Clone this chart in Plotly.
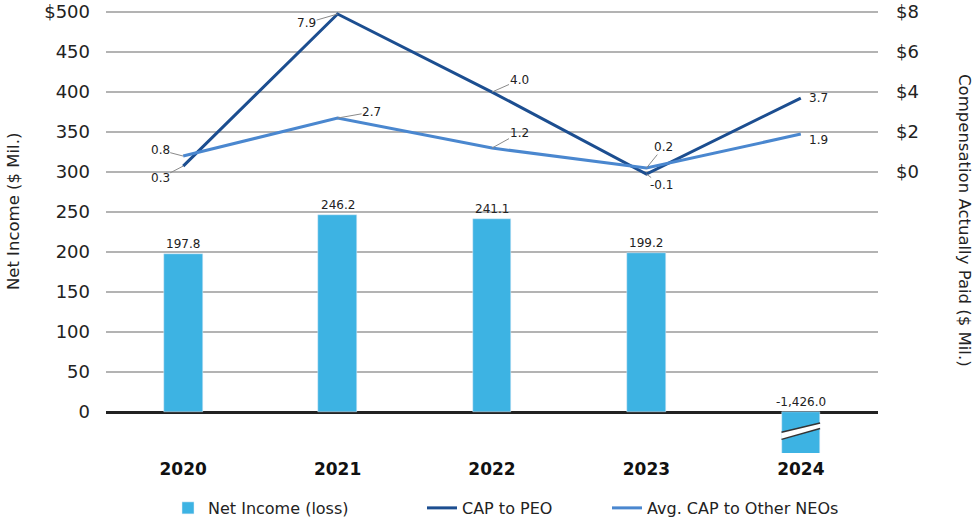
import plotly.graph_objects as go

years = ["2020", "2021", "2022", "2023", "2024"]
net_income = [197.8, 246.2, 241.1, 199.2, -1426.0]
net_income_labels = ["197.8", "246.2", "241.1", "199.2", "-1,426.0"]
cap_peo = [0.3, 7.9, 4.0, -0.1, 3.7]
cap_neo = [0.8, 2.7, 1.2, 0.2, 1.9]
left_ticks = [0, 50, 100, 150, 200, 250, 300, 350, 400, 450, 500]
left_tick_text = ["0", "50", "100", "150", "200", "250", "300", "350", "400", "450", "$500"]
right_ticks = [0, 2, 4, 6, 8]
right_tick_text = ["$0", "$2", "$4", "$6", "$8"]

FONT = "DejaVu Sans"
BAR_C = "#3db3e3"
PEO_C = "#1c4e90"
NEO_C = "#4a87cf"
TXT = "#222222"

LMIN, LMAX = -51, 502.5
# right axis: $0 aligned with 300, $8 aligned with 500
R0, RSCALE = 300, 25
RMIN, RMAX = (LMIN - R0) / RSCALE, (LMAX - R0) / RSCALE
BARW = 0.25

fig = go.Figure()
fig.add_trace(go.Bar(x=years, y=net_income, name="Net Income (loss)", marker_color=BAR_C,
                     width=BARW, yaxis="y", legend="legend"))
fig.add_trace(go.Scatter(x=years, y=cap_peo, name="CAP to PEO", mode="lines",
                         line=dict(color=PEO_C, width=3), yaxis="y2", legend="legend2"))
fig.add_trace(go.Scatter(x=years, y=cap_neo, name="Avg. CAP to Other NEOs", mode="lines",
                         line=dict(color=NEO_C, width=3), yaxis="y2", legend="legend3"))

ann = []
# bar value labels (x as category index)
for i, (v, lab) in enumerate(zip(net_income, net_income_labels)):
    ann.append(dict(x=i, y=max(v, 0), yref="y", text=lab, showarrow=False, yanchor="bottom",
                    yshift=1, font=dict(family=FONT, size=12, color=TXT)))

# line value labels with leader lines (text-centre offsets in px)
peo_off = [(-23, 12), (-31, 9), (27, -12), (15, 11), None]
neo_off = [(-23, -6), (34, -6), (27, -15), (17, -21), None]
for series, offs, shift in ((cap_peo, peo_off, 0), (cap_neo, neo_off, 6)):
    for i, (v, off) in enumerate(zip(series, offs)):
        if off is None:
            ann.append(dict(x=i, y=v, yref="y2", text=f"{v:.1f}", showarrow=False, xanchor="left",
                            xshift=6, yshift=-shift, font=dict(family=FONT, size=12, color=TXT)))
        else:
            ann.append(dict(x=i, y=v, yref="y2", text=f"{v:.1f}", showarrow=True, arrowhead=0,
                            arrowwidth=1, arrowcolor="#8a8a8a", ax=off[0], ay=off[1],
                            font=dict(family=FONT, size=12, color=TXT), borderpad=0))

# axis titles
ann.append(dict(x=0, xref="paper", xanchor="center", xshift=-93, y=250, yref="y",
                text="Net Income ($ Mil.)", showarrow=False, textangle=-90,
                font=dict(family=FONT, size=16.5, color=TXT)))
ann.append(dict(x=1, xref="paper", xanchor="center", xshift=87, y=240, yref="y",
                text="Compensation Actually Paid ($ Mil.)", showarrow=False, textangle=90,
                font=dict(family=FONT, size=16.5, color=TXT)))

# axis break marker on the clipped 2024 bar
bi = years.index("2024")
x0, x1 = bi - BARW / 2, bi + BARW / 2
up0, up1, lo0, lo1 = -25, -13.5, -34, -20.5
shapes = [
    dict(type="path", xref="x", yref="y",
         path=f"M {x0},{up0} L {x1},{up1} L {x1},{lo1} L {x0},{lo0} Z",
         fillcolor="white", line=dict(width=0)),
    dict(type="line", xref="x", yref="y", x0=x0, y0=up0, x1=x1, y1=up1,
         line=dict(color="#333333", width=1.5)),
    dict(type="line", xref="x", yref="y", x0=x0, y0=lo0, x1=x1, y1=lo1,
         line=dict(color="#333333", width=1.5)),
]

leg_common = dict(orientation="h", xref="container", yref="container", y=0.025,
                  yanchor="middle", xanchor="left", itemwidth=30,
                  font=dict(family=FONT, size=16, color=TXT), bgcolor="rgba(0,0,0,0)")

fig.update_layout(
    width=977, height=521,
    margin=dict(l=106, r=99, t=10, b=68, autoexpand=False),
    plot_bgcolor="white", paper_bgcolor="white",
    font=dict(family=FONT, color=TXT),
    showlegend=True,
    legend=dict(x=168 / 977, **leg_common),
    legend2=dict(x=422 / 977, **leg_common),
    legend3=dict(x=607 / 977, **leg_common),
    xaxis=dict(type="category", range=[-0.5, 4.5], showgrid=False, showline=False, ticks="",
               tickfont=dict(family=FONT, size=17, color="#111111", weight="bold"),
               ticklabelstandoff=4, automargin=False),
    yaxis=dict(range=[LMIN, LMAX], tickvals=left_ticks, ticktext=left_tick_text,
               showgrid=True, gridcolor="#b3b3b3", gridwidth=1.5,
               zeroline=True, zerolinecolor="#222222", zerolinewidth=2.5,
               tickfont=dict(family=FONT, size=18, color=TXT), ticklabelstandoff=15,
               showline=False, ticks="", automargin=False),
    yaxis2=dict(range=[RMIN, RMAX], overlaying="y", side="right", tickvals=right_ticks,
                ticktext=right_tick_text, showgrid=False, zeroline=False,
                tickfont=dict(family=FONT, size=18, color=TXT), ticklabelstandoff=17,
                showline=False, ticks="", automargin=False),
    annotations=ann,
    shapes=shapes,
    bargap=0,
)

fig.write_html("out.html", config={"displayModeBar": False},
               post_script="document.body.style.margin='0';document.body.style.overflow='hidden';")
